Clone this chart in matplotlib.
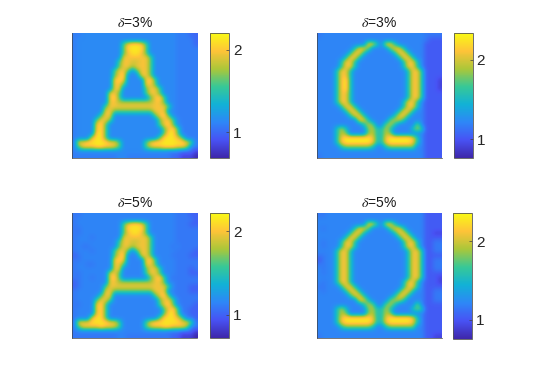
import numpy as np
import matplotlib
matplotlib.use('Agg')
import matplotlib.pyplot as plt
from matplotlib.colors import LinearSegmentedColormap

plt.rcParams['font.family'] = ['Liberation Sans', 'DejaVu Sans']
plt.rcParams['mathtext.fontset'] = 'stix'

# level digit -> reconstructed value, the omega panels sit on a higher scale
levels_a = [0.72, 0.85, 1.0, 1.09, 1.14, 1.62, 1.78, 1.88, 1.97, 2.12]
levels_o = [0.80, 0.92, 1.03, 1.16, 1.21, 1.58, 1.80, 1.95, 2.10, 2.28]

parula = [(0.2422, 0.1504, 0.6603), (0.2810, 0.3228, 0.9579), (0.1786, 0.5289, 0.9682),
          (0.0689, 0.6948, 0.8394), (0.2161, 0.7843, 0.5923), (0.6720, 0.7793, 0.2227),
          (0.9970, 0.7659, 0.2199), (0.9769, 0.9839, 0.0805)]

titles = ['3%', '3%', '5%', '5%']
clims = [(0.69, 2.205), (0.765, 2.34), (0.72, 2.22), (0.757, 2.36)]

a_3 = """
3344444 4444444 4444444 4433322
3444444 4444444 4444444 4433332
3444444 4444589 9854444 4433332
3444444 4444599 9954444 4433333
3444444 4444589 9854444 4433333
3444444 4444888 8885444 4433333
3444444 4445887 7885444 4433333
3444444 4445886 8885444 4433333
3444444 4458854 5885444 4433333
3444444 4458944 4885444 4433333
3444444 4489844 4489544 4433333
3444444 4488544 4488544 4433333
3444444 4488444 4458854 4433333
3444444 4885444 4458854 4433333
3444444 4895444 4445895 4433333
3444444 4886666 6666885 4433333
3444444 5888888 8888888 5433333
3444444 8855555 5555888 4433333
3444445 8844444 4444589 5433333
3444458 8544444 4444458 8543333
3444489 5444444 4444458 9543333
3444489 5444444 4444445 8953333
3444499 5444444 4444445 9953333
3444899 5444444 4444459 9985333
3889999 9885444 4458999 9999853
3588899 8875444 4457889 9988643
3444444 4444444 4444444 3332221
3333333 3334433 3333333 3221110
"""

omega_3 = """
3444444 4444444 4444444 4443333
4444444 4444444 4444444 4443222
4444444 4444885 4885444 4442222
4444444 4588644 4468854 4442222
4444444 5885444 4445885 4442222
4444445 8854444 4444588 5442222
4444458 8544444 4444458 8542222
4444458 8544444 4444458 8542222
4444588 5444444 4444445 8852222
4444588 5444444 4444445 8852222
4444589 5444444 4444445 8852221
4444589 5444444 4444445 8852221
4444589 5444444 4444445 8852221
4444588 5444444 4444445 8852222
4444588 5444444 4444445 8852222
4444588 5444444 4444458 8542222
4444458 8544444 4444458 8542222
4444445 8854444 4444588 5442222
4444444 5885444 4445885 4442222
4444444 4488544 4467754 4442222
4444444 4445764 4675444 4642222
4444575 4444675 5754444 5752222
4444576 4444675 5764444 4442222
4444589 9999985 5899999 8542222
4444589 9999985 5899999 8542222
4444456 6666654 4566666 6442222
4444444 4444444 4444444 4442222
3444444 4444444 4444444 4442222
"""

a_5 = """
3344444 4444444 4444444 4433322
3444444 4444444 4444444 4433332
3444444 4444589 9854444 4433322
3344444 4444599 9954444 4433333
3344444 4444589 9854444 4433333
3444344 4444888 8885444 4433333
3444444 4445887 7885444 4433333
3433444 4445886 8885444 4343333
3444344 4458854 5885444 4433332
2344444 4458944 4885444 4333322
3344444 4489844 4489544 4433333
3443344 4488544 4488544 4433333
3444444 4488444 4458854 4433323
3344444 4885444 4458854 4433322
3344344 4895444 4445895 4333333
2344444 4886666 6666885 4433333
2344444 5888888 8888888 5433322
3444444 8855555 5555888 4433322
3444445 8844444 4444589 5433333
3444458 8544444 4444458 8543333
3344489 5444444 4444458 9543332
3444489 5444444 4444445 8953322
3444489 5444444 4444445 9953322
3444899 5444444 4444459 9985332
3888999 9885444 4458999 9998853
3588889 8875444 4457889 9888643
3444444 4444444 4444444 3332221
3333333 3334433 3333333 3221110
"""

omega_5 = """
3344444 4444444 4444444 4442222
4444444 4444444 4444444 4442222
4444444 4444885 4885444 4442222
4344444 4588644 4468854 4442222
4444444 5885444 4445885 4442211
4444445 8854444 4444588 5442222
4344458 8544444 4444458 8542233
4344458 8544444 4444458 8542233
4444588 5444444 4444445 8852233
3344588 5444444 4444445 8852222
2344588 5444444 4444445 8852233
3344588 5444444 4444445 8852233
4344588 5444444 4444445 8852233
4344588 5444444 4444445 8852222
4444588 5444444 4444445 8852221
4344588 5444444 4444458 8542221
3344458 8544444 4444458 8542222
4344445 8854444 4444588 5442233
4444444 5885444 4445885 4442233
4444444 4488544 4467754 4442233
4444444 4445764 4675444 4642222
4444575 4444675 5754444 5652222
4444576 4444675 5764444 4442222
4444589 9999985 5899999 8542222
4444589 9999985 5899999 8542222
4444456 6666654 4566666 6442222
4444444 4444444 4444444 4442222
3444444 4444444 4444444 4442211
"""


def parseGrid(text, levels):
    rows = []
    for line in text.split('\n'):
        line = line.replace(' ', '')
        if line:
            rows.append([levels[int(c)] for c in line])
    return np.array(rows)


grids = [a_3, omega_3, a_5, omega_5]
grid_levels = [levels_a, levels_o, levels_a, levels_o]

# axes boxes in pixels: left, top, right, bottom, then colorbar left, right, top, bottom
boxes = [(72, 33, 197.5, 158, 210, 229, 33, 158),
         (316.5, 33, 441.5, 158, 454, 472.5, 33, 158),
         (72, 213, 197.5, 338, 210, 229, 213, 338),
         (316.5, 213, 441.5, 338, 453, 472, 213, 339)]

W, H = 554.0, 380.0
cmap = LinearSegmentedColormap.from_list('parula', parula, N=256)

fig = plt.figure(figsize=(5.54, 3.8), dpi=100)

for idx in range(4):
    l, t, r, b, cl, cr, ct, cb = boxes[idx]
    ax = fig.add_axes([l / W, 1 - b / H, (r - l) / W, (b - t) / H])
    vmin, vmax = clims[idx]
    im = ax.imshow(parseGrid(grids[idx], grid_levels[idx]), cmap=cmap, vmin=vmin, vmax=vmax,
                   interpolation='bicubic', aspect='auto')
    ax.set_xticks([])
    ax.set_yticks([])
    ax.spines['top'].set_visible(False)
    ax.spines['right'].set_visible(False)
    for side in ['left', 'bottom']:
        ax.spines[side].set_color('#404040')
        ax.spines[side].set_linewidth(0.5)
    ax.set_title(r'$\delta$=' + titles[idx], fontsize=10, pad=4, color='#1a1a1a')

    cax = fig.add_axes([cl / W, 1 - cb / H, (cr - cl) / W, (cb - ct) / H])
    cbar = fig.colorbar(im, cax=cax)
    cbar.set_ticks([1, 2])
    cbar.set_ticklabels(['1', '2'])
    cax.tick_params(direction='in', length=2, width=0.5, labelsize=11,
                    color='#404040', labelcolor='#262626', pad=3)
    cbar.outline.set_edgecolor('#555555')
    cbar.outline.set_linewidth(0.6)

fig.savefig('out.png', dpi=100)
